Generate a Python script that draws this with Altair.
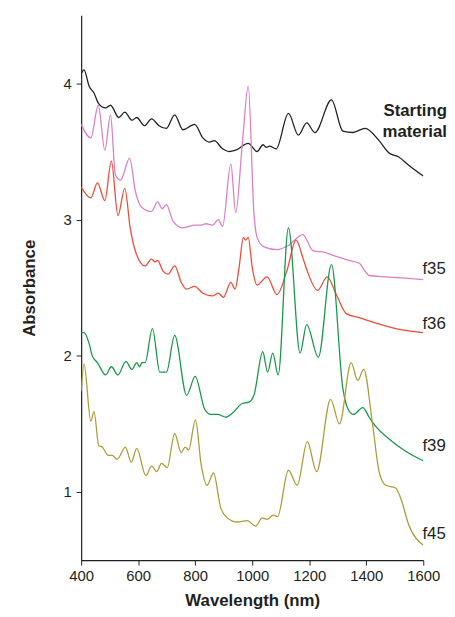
import altair as alt
import pandas as pd

# Starting material (black)
sm_x = [400, 410, 428, 445, 462, 486, 503, 532, 553, 578, 595, 622, 647, 673, 699, 728, 757, 798, 827, 850, 867, 896, 919, 942, 986, 1017, 1038, 1050, 1061, 1084, 1127, 1162, 1191, 1220, 1278, 1318, 1353, 1396, 1445, 1480, 1514, 1549, 1600]
sm_y = [4.07, 4.10, 3.98, 3.93, 3.85, 3.82, 3.84, 3.75, 3.79, 3.73, 3.75, 3.69, 3.74, 3.69, 3.67, 3.77, 3.66, 3.70, 3.60, 3.57, 3.58, 3.52, 3.50, 3.51, 3.56, 3.50, 3.55, 3.53, 3.54, 3.52, 3.78, 3.62, 3.71, 3.64, 3.88, 3.65, 3.64, 3.67, 3.58, 3.49, 3.46, 3.40, 3.32]

# f35 (pink)
f35_x = [400, 434, 460, 483, 503, 520, 538, 570, 590, 613, 647, 668, 684, 699, 722, 757, 798, 821, 838, 861, 881, 896, 925, 942, 965, 986, 1006, 1017, 1041, 1087, 1127, 1177, 1214, 1254, 1295, 1341, 1376, 1393, 1410, 1468, 1538, 1600]
f35_y = [3.70, 3.60, 3.84, 3.51, 3.77, 3.33, 3.29, 3.45, 3.21, 3.09, 3.06, 3.13, 3.08, 3.11, 2.99, 2.94, 2.96, 2.96, 2.97, 2.96, 3.00, 2.95, 3.41, 3.05, 3.55, 3.98, 3.05, 2.87, 2.80, 2.78, 2.81, 2.89, 2.77, 2.76, 2.73, 2.70, 2.68, 2.63, 2.59, 2.58, 2.57, 2.56]

# f36 (red)
f36_x = [400, 434, 457, 483, 506, 529, 553, 572, 590, 624, 647, 659, 668, 688, 705, 728, 751, 769, 798, 827, 861, 881, 899, 925, 940, 954, 969, 977, 986, 1000, 1017, 1052, 1087, 1121, 1154, 1179, 1197, 1229, 1263, 1295, 1330, 1376, 1434, 1503, 1600]
f36_y = [3.24, 3.16, 3.27, 3.14, 3.43, 3.03, 3.23, 2.94, 2.77, 2.66, 2.71, 2.69, 2.70, 2.62, 2.60, 2.66, 2.54, 2.49, 2.51, 2.46, 2.44, 2.46, 2.43, 2.54, 2.49, 2.65, 2.87, 2.85, 2.87, 2.65, 2.52, 2.58, 2.45, 2.62, 2.85, 2.71, 2.60, 2.48, 2.58, 2.45, 2.31, 2.28, 2.24, 2.20, 2.17]

# f39 (green)
f39_x = [400, 410, 428, 439, 457, 486, 506, 529, 557, 578, 595, 605, 613, 624, 650, 676, 699, 728, 770, 800, 833, 855, 879, 907, 931, 965, 989, 1006, 1037, 1054, 1072, 1091, 1127, 1168, 1191, 1232, 1278, 1318, 1336, 1355, 1388, 1410, 1434, 1480, 1538, 1600]
f39_y = [2.17, 2.17, 2.09, 2.00, 1.95, 1.86, 1.92, 1.86, 1.96, 1.90, 1.95, 1.92, 1.95, 1.95, 2.20, 1.88, 1.88, 2.15, 1.71, 1.85, 1.61, 1.57, 1.57, 1.55, 1.58, 1.65, 1.66, 1.71, 2.03, 1.88, 2.02, 1.86, 2.94, 2.02, 2.23, 1.99, 2.67, 1.76, 1.61, 1.57, 1.62, 1.55, 1.48, 1.39, 1.30, 1.23]

# f45 (olive)
f45_x = [400, 410, 434, 445, 462, 474, 495, 509, 526, 555, 576, 595, 627, 647, 665, 682, 702, 728, 751, 765, 777, 801, 821, 842, 864, 890, 913, 948, 983, 1012, 1035, 1052, 1075, 1089, 1127, 1158, 1193, 1226, 1275, 1306, 1347, 1370, 1391, 1422, 1445, 1468, 1503, 1520, 1549, 1600]
f45_y = [1.74, 1.94, 1.52, 1.59, 1.34, 1.33, 1.27, 1.27, 1.24, 1.33, 1.22, 1.32, 1.12, 1.19, 1.15, 1.21, 1.18, 1.43, 1.29, 1.33, 1.31, 1.53, 1.20, 1.05, 1.14, 0.88, 0.81, 0.78, 0.79, 0.75, 0.81, 0.80, 0.83, 0.82, 1.16, 1.05, 1.37, 1.15, 1.68, 1.50, 1.95, 1.82, 1.90, 1.50, 1.15, 1.05, 1.03, 0.96, 0.76, 0.61]

series_names = ["Starting material", "f35", "f36", "f39", "f45"]
series_colors = ["#231f20", "#dc7fc4", "#f04b3a", "#16994a", "#ad9d38"]

label_text = ["Starting", "material", "f35", "f36", "f39", "f45"]
label_x = [1683, 1683, 1597, 1597, 1597, 1597]
label_y = [3.80, 3.64, 2.64, 2.235, 1.34, 0.69]
label_weight = ["bold", "bold", "normal", "normal", "normal", "normal"]

x_ticks = [400, 600, 800, 1000, 1200, 1400, 1600]
y_ticks = [1, 2, 3, 4]

xs = [sm_x, f35_x, f36_x, f39_x, f45_x]
ys = [sm_y, f35_y, f36_y, f39_y, f45_y]
rows = []
for name, xx, yy in zip(series_names, xs, ys):
    for a, b in zip(xx, yy):
        rows.append({"series": name, "wl": a, "abs": b})
df = pd.DataFrame(rows)

labels = pd.DataFrame({"text": label_text, "wl": label_x, "abs": label_y, "weight": label_weight})

FONT = "Liberation Sans"

x_scale = alt.Scale(domain=[400, 1600], nice=False)
y_scale = alt.Scale(domain=[0.5, 4.5], nice=False, zero=False)

lines = alt.Chart(df).mark_line(interpolate="monotone", strokeWidth=1.3, clip=True).encode(
    x=alt.X("wl:Q", scale=x_scale,
            axis=alt.Axis(title="Wavelength (nm)", values=x_ticks, format="d", labelOverlap=False,
                          labelFlush=False, grid=False, tickSize=5, labelPadding=4, titlePadding=9)),
    y=alt.Y("abs:Q", scale=y_scale,
            axis=alt.Axis(title="Absorbance", values=y_ticks, format="d", labelOverlap=False, grid=False,
                          tickSize=5, labelPadding=5, titlePadding=25)),
    color=alt.Color("series:N", scale=alt.Scale(domain=series_names, range=series_colors), legend=None),
    detail="series:N",
)

bold_labels = alt.Chart(labels[labels["weight"] == "bold"]).mark_text(
    align="right", baseline="middle", font=FONT, fontSize=17, fontWeight="bold", color="#231f20", clip=False
).encode(x=alt.X("wl:Q", scale=x_scale), y=alt.Y("abs:Q", scale=y_scale), text="text:N")

norm_labels = alt.Chart(labels[labels["weight"] == "normal"]).mark_text(
    align="left", baseline="middle", font=FONT, fontSize=17, color="#231f20", clip=False
).encode(x=alt.X("wl:Q", scale=x_scale), y=alt.Y("abs:Q", scale=y_scale), text="text:N")

chart = alt.layer(lines, bold_labels, norm_labels).properties(
    width=346, height=551,
    padding={"left": 12, "top": 4, "right": 0, "bottom": 0},
).configure_view(stroke=None).configure_axis(
    domainColor="#231f20", tickColor="#231f20", domainWidth=1.2,
    labelFont=FONT, labelFontSize=15, labelColor="#231f20",
    titleFont=FONT, titleFontSize=17, titleFontWeight="bold", titleColor="#231f20",
)

chart.save("out.html", embed_options={"renderer": "svg", "actions": False})
